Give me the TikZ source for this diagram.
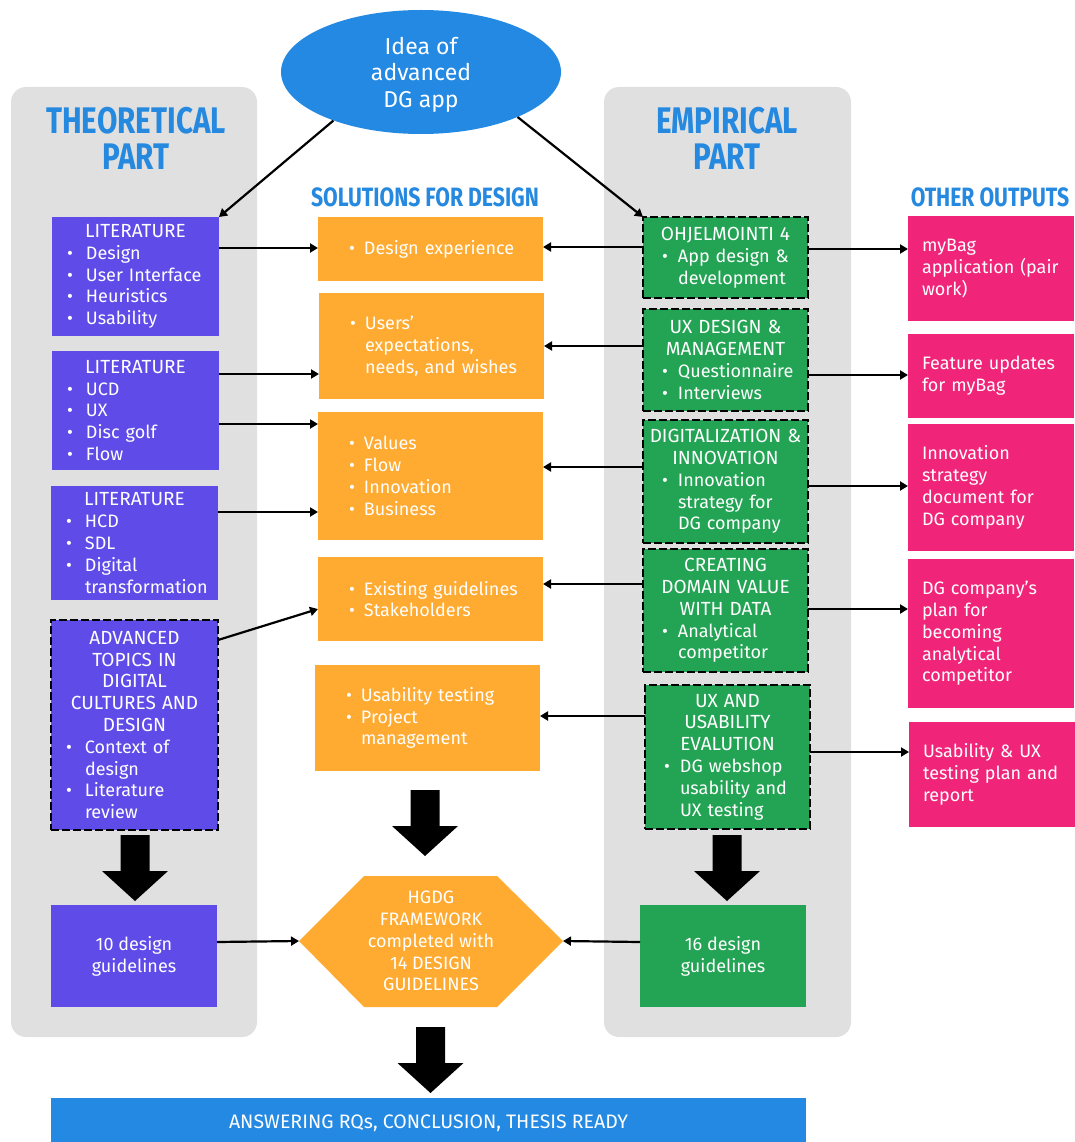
\documentclass[tikz,border=0pt]{standalone}
\usepackage{fontspec}
\setmainfont{Fira Sans}
\newfontfamily\headfont{Fira Sans}[FakeStretch=0.8]
\usetikzlibrary{arrows.meta,shapes.geometric}

\definecolor{panelgray}{HTML}{E0E0E0}
\definecolor{litpurple}{HTML}{5F4BE8}
\definecolor{solorange}{HTML}{FFAA30}
\definecolor{empgreen}{HTML}{23A454}
\definecolor{outpink}{HTML}{F02478}
\definecolor{ideablue}{HTML}{2389E3}
\definecolor{headblue}{HTML}{2689E0}

\newlength\bw
\setlength\bw{20pt}
\newcommand\bodysize{\fontsize{18}{21.8}\selectfont}
% centred heading line, bulleted line, indented continuation, plain line
\newcommand\hd[1]{\makebox[\linewidth][c]{\fontsize{19}{21.8}\selectfont #1}}
\newcommand\bul[1]{\mbox{\makebox[\bw][l]{\hspace{1pt}\textbullet}#1}}
\newcommand\ind[1]{\mbox{\hspace*{\bw}#1}}
\newcommand\lne[1]{\mbox{#1}}

\tikzset{
  card/.style={anchor=north west, inner ysep=0pt, outer sep=0pt, align=left,
    text=white, font=\bodysize},
  litbox/.style={card, fill=litpurple, inner xsep=14pt, text width=139pt,
    minimum width=167pt, execute at begin node={\setlength{\bw}{20pt}}},
  litdash/.style={litbox, draw=black, line width=2.4pt, dash pattern=on 8pt off 3pt},
  solbox/.style={card, fill=solorange, inner xsep=30pt, text width=165pt,
    minimum width=225pt, execute at begin node={\setlength{\bw}{16pt}}},
  empbox/.style={card, fill=empgreen, draw=black, line width=2.4pt,
    dash pattern=on 8pt off 3pt, inner xsep=18pt, text width=129pt,
    minimum width=165pt, execute at begin node={\setlength{\bw}{17pt}}},
  outbox/.style={card, fill=outpink, inner xsep=14pt, text width=138pt,
    minimum width=166pt},
  resultbox/.style={anchor=north west, outer sep=0pt, align=center, text=white,
    font=\bodysize, minimum width=166pt, minimum height=102pt},
  heading/.style={align=center, text=headblue, inner sep=0pt},
  conn/.style={draw=black, line width=2.2pt, -{Triangle[length=8pt,width=9pt]}},
  bigarrow/.pic={\fill[black] (-14.5,0) -- (14.5,0) -- (14.5,36) -- (33,36)
    -- (0,66) -- (-33,36) -- (-14.5,36) -- cycle;}
}

\begin{document}
\begin{tikzpicture}[x=1pt,y=-1pt]
\useasboundingbox[fill=white] (0,0) rectangle (1074,1142);

% column panels
\fill[panelgray, rounded corners=15pt] (11,87) rectangle (257,1037);
\fill[panelgray, rounded corners=15pt] (604,87) rectangle (851,1037);

% headings
\node[heading, font=\headfont\bfseries\fontsize{37}{36}\selectfont] (theo) at (136,138) {THEORETICAL\\PART};
\node[heading, font=\headfont\bfseries\fontsize{37}{36}\selectfont] (emp) at (727,138) {EMPIRICAL\\PART};
\node[heading, font=\headfont\bfseries\fontsize{26.5}{26.5}\selectfont] (solh) at (425,197) {SOLUTIONS FOR DESIGN};
\node[heading, font=\headfont\bfseries\fontsize{26.5}{26.5}\selectfont] (outh) at (990,197) {OTHER OUTPUTS};

% starting idea
\node[ellipse, fill=ideablue, minimum width=280pt, minimum height=124pt, inner sep=0pt,
  align=center, text=white, font=\fontsize{23}{26.5}\selectfont] (idea) at (421,72)
  {\rule{0pt}{22pt}Idea of\\advanced\\DG app};

% theoretical part
\node[litbox, minimum height=119pt] (lit1) at (52,217)
  {\hd{LITERATURE}\\\bul{Design}\\\bul{User Interface}\\\bul{Heuristics}\\\bul{Usability}};
\node[litbox, minimum height=119pt] (lit2) at (52,351)
  {\hd{LITERATURE}\\\bul{UCD}\\\bul{UX}\\\bul{Disc golf}\\\bul{Flow}};
\node[litbox, minimum width=166pt, minimum height=114pt] (lit3) at (51,486)
  {\hd{LITERATURE}\\\bul{HCD}\\\bul{SDL}\\\bul{Digital}\\\ind{transformation}};
\node[litdash, minimum width=166pt, minimum height=210pt] (adv) at (51,620)
  {\hd{ADVANCED}\\\hd{TOPICS IN}\\\hd{DIGITAL}\\\hd{CULTURES AND}\\\hd{DESIGN}\\
   \bul{Context of}\\\ind{design}\\\bul{Literature}\\\ind{review}};
\node[resultbox, fill=litpurple] (gl10) at (51,905) {10 design\\guidelines};

% solutions for design
\node[solbox, minimum height=64pt] (de) at (318,217) {\bul{Design experience}};
\node[solbox, minimum height=106pt] (ue) at (319,293)
  {\bul{Users'}\\\ind{expectations,}\\\ind{needs, and wishes}};
\node[solbox, minimum height=128pt] (vf) at (318,412)
  {\bul{Values}\\\bul{Flow}\\\bul{Innovation}\\\bul{Business}};
\node[solbox, minimum height=84pt] (eg) at (318,557)
  {\bul{Existing guidelines}\\\bul{Stakeholders}};
\node[solbox, minimum height=106pt] (ut) at (315,665)
  {\bul{Usability testing}\\\bul{Project}\\\ind{management}};

% framework hexagon
\coordinate (hexL) at (299,941);
\coordinate (hexR) at (563,941);
\fill[solorange] (hexL) -- (364,876) -- (497,876) -- (hexR) -- (497,1007) -- (364,1007) -- cycle;
\node[align=center, text=white, font=\bodysize, inner sep=0pt] (hex) at (431,941)
  {HGDG\\FRAMEWORK\\completed with\\14 DESIGN\\GUIDELINES};

% empirical part
\node[empbox, minimum height=81pt] (oh) at (643,217)
  {\hd{OHJELMOINTI 4}\\\bul{App design \&}\\\ind{development}};
\node[empbox, minimum height=102pt] (uxd) at (643,309)
  {\hd{UX DESIGN \&}\\\hd{MANAGEMENT}\\\bul{Questionnaire}\\\bul{Interviews}};
\node[empbox, minimum height=123pt] (dig) at (643,420)
  {\hd{DIGITALIZATION \&}\\\hd{INNOVATION}\\\bul{Innovation}\\\ind{strategy for}\\\ind{DG company}};
\node[empbox, minimum height=123pt] (cre) at (643,549)
  {\hd{CREATING}\\\hd{DOMAIN VALUE}\\\hd{WITH DATA}\\\bul{Analytical}\\\ind{competitor}};
\node[empbox, minimum height=144pt] (uxa) at (645,685)
  {\hd{UX AND}\\\hd{USABILITY}\\\hd{EVALUTION}\\\bul{DG webshop}\\\ind{usability and}\\\ind{UX testing}};
\node[resultbox, fill=empgreen] (gl16) at (640,905) {16 design\\guidelines};

% other outputs
\node[outbox, minimum height=105pt] (o1) at (908,216)
  {\lne{myBag}\\\lne{application (pair}\\\lne{work)}};
\node[outbox, minimum height=84pt] (o2) at (908,334)
  {\lne{Feature updates}\\\lne{for myBag}};
\node[outbox, minimum height=127pt] (o3) at (908,424)
  {\lne{Innovation}\\\lne{strategy}\\\lne{document for}\\\lne{DG company}};
\node[outbox, minimum height=149pt] (o4) at (908,559)
  {\lne{DG company's}\\\lne{plan for}\\\lne{becoming}\\\lne{analytical}\\\lne{competitor}};
\node[outbox, minimum height=105pt] (o5) at (909,722)
  {\lne{Usability \& UX}\\\lne{testing plan and}\\\lne{report}};

% final result
\node[anchor=north west, fill=ideablue, minimum width=755pt, minimum height=50pt,
  inner sep=0pt, outer sep=0pt, text=white, font=\fontsize{19.5}{22}\selectfont] (bar) at (51,1098)
  {ANSWERING RQs, CONCLUSION, THESIS READY};

% block arrows
\pic at (135,835) {bigarrow};
\pic at (425,790) {bigarrow};
\pic at (727,835) {bigarrow};
\pic at (430.5,1027) {bigarrow};

% connectors
\draw[conn] (idea.209) -- (lit1.north east);
\draw[conn] (idea.335) -- (oh.north west);
\draw[conn] (lit1.east |- 0,248) -- (de.west |- 0,248);
\draw[conn] (lit2.east |- 0,374) -- (ue.west |- 0,374);
\draw[conn] (lit2.east |- 0,424) -- (vf.west |- 0,424);
\draw[conn] (lit3.east |- 0,512) -- (vf.west |- 0,512);
\draw[conn] (adv.east |- 0,640) -- (eg.west |- 0,609);
\draw[conn] (oh.west |- 0,247) -- (de.east |- 0,247);
\draw[conn] (uxd.west |- 0,346) -- (ue.east |- 0,346);
\draw[conn] (dig.west |- 0,467) -- (vf.east |- 0,467);
\draw[conn] (cre.west |- 0,584) -- (eg.east |- 0,584);
\draw[conn] (uxa.west |- 0,716) -- (ut.east |- 0,716);
\draw[conn] (oh.east |- 0,249) -- (o1.west |- 0,249);
\draw[conn] (uxd.east |- 0,375) -- (o2.west |- 0,375);
\draw[conn] (dig.east |- 0,486) -- (o3.west |- 0,486);
\draw[conn] (cre.east |- 0,609) -- (o4.west |- 0,609);
\draw[conn] (uxa.east |- 0,752) -- (o5.west |- 0,752);
\draw[conn] (gl10.east |- 0,942) -- (hexL);
\draw[conn] (gl16.west |- 0,942) -- (hexR);
\end{tikzpicture}
\end{document}
